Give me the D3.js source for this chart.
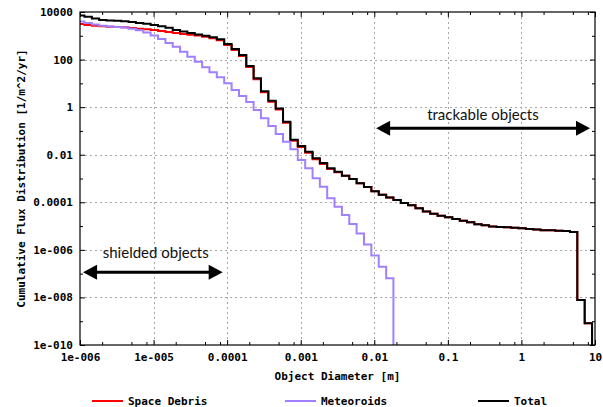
<!DOCTYPE html>
<html><head><meta charset="utf-8">
<script src="https://cdn.jsdelivr.net/npm/d3@7"></script>
<style>body{margin:0;background:#fff}svg{display:block}</style>
</head><body><svg id="c" width="603" height="407"></svg>
<script>
// bin edges (object diameter, m)
const diameters = [9.12e-7,
 1.15e-6,1.45e-6,1.82e-6,2.29e-6,2.88e-6,3.63e-6,4.57e-6,5.75e-6,7.24e-6,9.12e-6,
 1.15e-5,1.45e-5,1.82e-5,2.29e-5,2.88e-5,3.63e-5,4.57e-5,5.75e-5,7.24e-5,9.12e-5,
 1.15e-4,1.45e-4,1.82e-4,2.29e-4,2.88e-4,3.63e-4,4.57e-4,5.75e-4,7.24e-4,9.12e-4,
 1.15e-3,1.45e-3,1.82e-3,2.29e-3,2.88e-3,3.63e-3,4.57e-3,5.75e-3,7.24e-3,9.12e-3,
 0.0115,0.0145,0.0182,0.0229,0.0288,0.0363,0.0457,0.0575,0.0724,0.0912,
 0.115,0.145,0.182,0.229,0.288,0.363,0.457,0.575,0.724,0.912,
 1.15,1.45,1.82,2.29,2.88,3.63,4.57,5.75,7.24,9.12];

const total = [7130,6280,5330,4610,4390,4310,4100,3800,3450,3190,
 2840,2510,2170,1750,1510,1310,1130,1000,865,711,
 452,280,156,53.7,16.3,4.64,1.87,0.88,0.245,0.0429,
 0.0233,0.0134,0.00708,0.0045,0.00269,0.00194,0.00131,9.55e-4,6.3e-4,4.4e-4,
 2.93e-4,2.09e-4,1.6e-4,1.25e-4,9.4e-5,7.5e-5,5.6e-5,4.1e-5,3.3e-5,2.74e-5,
 2.35e-5,1.99e-5,1.69e-5,1.45e-5,1.19e-5,1.08e-5,9.5e-6,9.2e-6,8.9e-6,8.4e-6,
 8.1e-6,7.6e-6,7.1e-6,6.7e-6,6.6e-6,6.4e-6,6.25e-6,5.7e-6,7.8e-9,8.2e-10];

const spaceDebris = [3130,2840,2630,2510,2410,2340,2270,2120,1990,1880,
 1750,1590,1440,1310,1190,1100,1030,908,784,646,
 410,253,141,48.7,14.8,4.22,1.70,0.80,0.222,0.0382,
 0.0211,0.0122,0.00643,0.00408,0.00252,0.00185,0.00131,9.55e-4,6.3e-4,4.4e-4,
 2.93e-4,2.09e-4,1.6e-4,1.25e-4,9.4e-5,7.5e-5,5.6e-5,4.1e-5,3.3e-5,2.74e-5,
 2.35e-5,1.99e-5,1.69e-5,1.45e-5,1.19e-5,1.08e-5,9.5e-6,9.2e-6,8.9e-6,8.4e-6,
 8.1e-6,7.6e-6,7.1e-6,6.7e-6,6.6e-6,6.4e-6,6.25e-6,5.7e-6,7.8e-9,8.2e-10];

const meteoroids = [3990,3450,2990,2630,2460,2340,2230,1990,1720,1370,
 1030,733,498,348,214,132,81.5,47.4,29.2,18.0,
 10.1,5.26,2.94,1.65,0.76,0.34,0.161,0.0745,0.0353,0.0169,
 0.0060,0.00269,0.00102,4.54e-4,1.48e-4,6.5e-5,2.93e-5,1.23e-5,4.9e-6,1.69e-6,
 5.8e-7,1.97e-7,6.4e-8];

const xTicks = [1e-6,1e-5,1e-4,1e-3,1e-2,1e-1,1,10];
const xTickLabels = ["1e-006","1e-005","0.0001","0.001","0.01","0.1","1","10"];
const yTicks = [1e4,1e2,1,1e-2,1e-4,1e-6,1e-8,1e-10];
const yTickLabels = ["10000","100","1","0.01","0.0001","1e-006","1e-008","1e-010"];
const xMinorTicks = [2e-6,5e-6,8e-6,2e-5,5e-5,8e-5,2e-4,5e-4,8e-4,2e-3,5e-3,8e-3,0.02,0.05,0.08,0.2,0.5,0.8,2,5,8];
const yMinorTicks = [1e3,10,0.1,1e-3,1e-5,1e-7,1e-9];
const seriesNames = ["Space Debris","Meteoroids","Total"];
const seriesColors = ["#ff0000","#a080ff","#000000"];
const annotations = [
  {text:"trackable objects", from:0.0106, to:8.55, at:0.13, tx:0.30, ty:0.515},
  {text:"shielded objects", from:1.1e-6, to:8.7e-5, at:1.15e-7, tx:1.07e-5, ty:7.9e-7}
];

const svg = d3.select("#c");
const m = {l:80, r:595, t:12, b:345};
const x = d3.scaleLog().domain([1e-6,10]).range([m.l,m.r]);
const y = d3.scaleLog().domain([1e-10,1e4]).range([m.b,m.t]).clamp(true);
const mono = "'DejaVu Sans Mono', monospace";

// grid
const g = svg.append("g").attr("stroke","#a8a8a8").attr("stroke-width",1).attr("stroke-dasharray","2,3");
xTicks.slice(1,-1).forEach(d=>g.append("line").attr("x1",Math.round(x(d))+0.5).attr("x2",Math.round(x(d))+0.5).attr("y1",m.t).attr("y2",m.b));
yTicks.slice(1,-1).forEach(d=>g.append("line").attr("y1",Math.round(y(d))+0.5).attr("y2",Math.round(y(d))+0.5).attr("x1",m.l).attr("x2",m.r));

// axes
function styleAxis(sel){
  sel.select(".domain").remove();
  sel.selectAll("line").attr("stroke","#000").attr("stroke-width",1);
  sel.selectAll("text").attr("font-family",mono).attr("font-weight","bold").attr("font-size",11).attr("fill","#000");
}
svg.append("g").attr("transform",`translate(0,${m.b})`)
  .call(d3.axisBottom(x).tickValues(xTicks).tickFormat((d,i)=>xTickLabels[i]).tickSizeInner(-5).tickSizeOuter(0).tickPadding(8)).call(styleAxis);
svg.append("g").attr("transform",`translate(0,${m.b})`)
  .call(d3.axisBottom(x).tickValues(xMinorTicks).tickFormat("").tickSizeInner(-3).tickSizeOuter(0)).call(styleAxis);
svg.append("g").attr("transform",`translate(0,${m.t})`)
  .call(d3.axisTop(x).tickValues(xTicks).tickFormat("").tickSizeInner(-5).tickSizeOuter(0)).call(styleAxis);
svg.append("g").attr("transform",`translate(0,${m.t})`)
  .call(d3.axisTop(x).tickValues(xMinorTicks).tickFormat("").tickSizeInner(-3).tickSizeOuter(0)).call(styleAxis);
svg.append("g").attr("transform",`translate(${m.l},0)`)
  .call(d3.axisLeft(y).tickValues(yTicks).tickFormat((d,i)=>yTickLabels[i]).tickSizeInner(-5).tickSizeOuter(0).tickPadding(7)).call(styleAxis);
svg.append("g").attr("transform",`translate(${m.l},0)`)
  .call(d3.axisLeft(y).tickValues(yMinorTicks).tickFormat("").tickSizeInner(-3).tickSizeOuter(0)).call(styleAxis);
svg.append("g").attr("transform",`translate(${m.r},0)`)
  .call(d3.axisRight(y).tickValues(yTicks).tickFormat("").tickSizeInner(-5).tickSizeOuter(0)).call(styleAxis);
svg.append("g").attr("transform",`translate(${m.r},0)`)
  .call(d3.axisRight(y).tickValues(yMinorTicks).tickFormat("").tickSizeInner(-3).tickSizeOuter(0)).call(styleAxis);

// clip
svg.append("clipPath").attr("id","clip").append("rect").attr("x",m.l).attr("y",m.t-3).attr("width",m.r-m.l).attr("height",m.b-m.t+3);

// series
const line = d3.line().x(d=>x(d[0])).y(d=>y(d[1])).curve(d3.curveStepAfter);
function pts(vals){
  const p = vals.map((v,i)=>[diameters[i], v]);
  p.push([diameters[vals.length], 1e-10]);
  return p;
}
const series = [spaceDebris, meteoroids, total];
const sg = svg.append("g").attr("clip-path","url(#clip)");
series.forEach((s,i)=>{
  sg.append("path").attr("d",line(pts(s))).attr("fill","none").attr("stroke",seriesColors[i]).attr("stroke-width",2).attr("stroke-linejoin","miter");
});

// frame
svg.append("rect").attr("x",m.l).attr("y",m.t).attr("width",m.r-m.l).attr("height",m.b-m.t).attr("fill","none").attr("stroke","#000").attr("stroke-width",1.2);

// annotations
annotations.forEach(a=>{
  const x1 = x(a.from), x2 = x(a.to), yy = y(a.at), hl = 14, hw = 7.5;
  svg.append("line").attr("x1",x1+hl-2).attr("x2",x2-hl+2).attr("y1",yy).attr("y2",yy).attr("stroke","#000").attr("stroke-width",3);
  svg.append("path").attr("d",`M${x1},${yy}L${x1+hl},${yy-hw}L${x1+hl},${yy+hw}Z`).attr("fill","#000");
  svg.append("path").attr("d",`M${x2},${yy}L${x2-hl},${yy-hw}L${x2-hl},${yy+hw}Z`).attr("fill","#000");
  svg.append("text").attr("x",x(a.tx)).attr("y",y(a.ty)).attr("text-anchor","middle").attr("dominant-baseline","central")
    .attr("font-family","Lato, 'Open Sans', sans-serif").attr("font-size",15).attr("fill","#111").text(a.text);
});

// axis titles
svg.append("text").attr("x",(m.l+m.r)/2).attr("y",380).attr("text-anchor","middle")
  .attr("font-family",mono).attr("font-weight","bold").attr("font-size",11).text("Object Diameter [m]");
svg.append("text").attr("transform",`translate(25,${(m.t+m.b)/2}) rotate(-90)`).attr("text-anchor","middle")
  .attr("font-family",mono).attr("font-weight","bold").attr("font-size",11).text("Cumulative Flux Distribution [1/m^2/yr]");

// legend
const legX = [92, 285, 478];
seriesNames.forEach((n,i)=>{
  svg.append("line").attr("x1",legX[i]).attr("x2",legX[i]+31).attr("y1",401).attr("y2",401).attr("stroke",seriesColors[i]).attr("stroke-width",2);
  svg.append("text").attr("x",legX[i]+36).attr("y",401).attr("dominant-baseline","central")
    .attr("font-family",mono).attr("font-weight","bold").attr("font-size",11).text(n);
});
</script></body></html>
